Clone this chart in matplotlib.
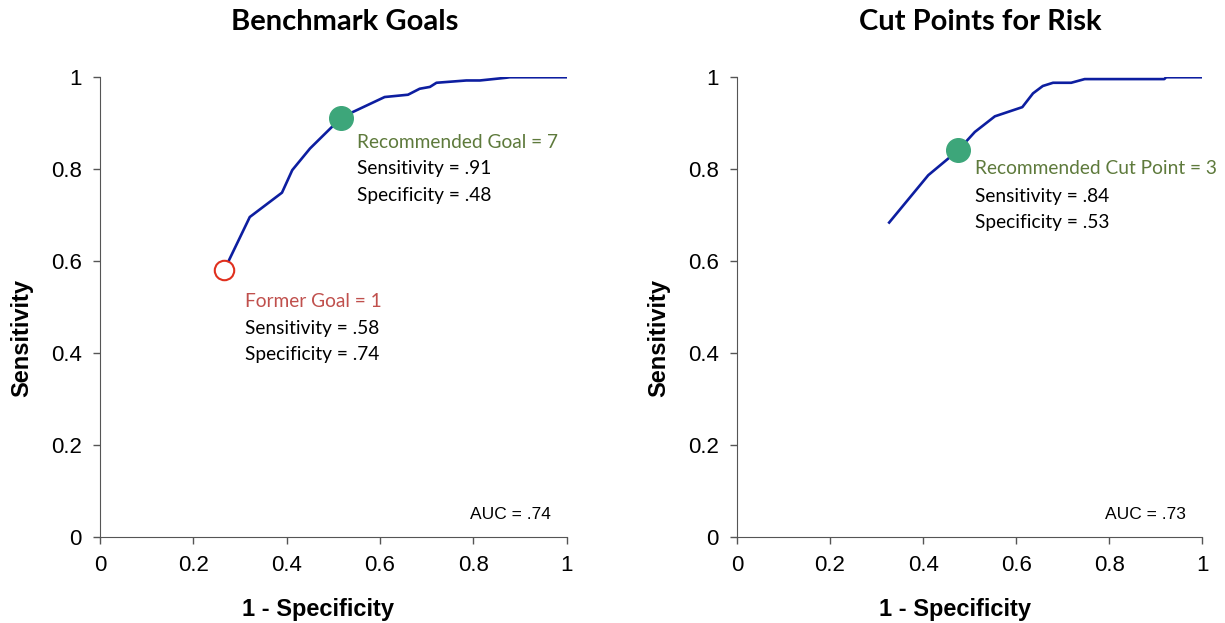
import matplotlib
matplotlib.use("Agg")
import matplotlib.pyplot as plt

plt.rcParams['font.family'] = ['Liberation Sans', 'DejaVu Sans']

# ROC curves: x = 1 - specificity, y = sensitivity
goal_fpr = [0.266, 0.321, 0.390, 0.412, 0.450, 0.517, 0.543, 0.610, 0.660, 0.685,
            0.707, 0.721, 0.785, 0.814, 0.871, 0.878, 1.0]
goal_tpr = [0.580, 0.696, 0.749, 0.798, 0.845, 0.912, 0.925, 0.957, 0.962, 0.975,
            0.979, 0.988, 0.993, 0.993, 0.999, 1.0, 1.0]

risk_fpr = [0.327, 0.411, 0.475, 0.511, 0.554, 0.613, 0.636, 0.657, 0.679, 0.718,
            0.747, 0.918, 0.922, 1.0]
risk_tpr = [0.684, 0.787, 0.841, 0.881, 0.915, 0.935, 0.965, 0.981, 0.988, 0.988,
            0.996, 0.996, 1.0, 1.0]

former_pt = (0.265, 0.58)
goal_pt = (0.517, 0.912)
cut_pt = (0.475, 0.841)

ticks = [0, 0.2, 0.4, 0.6, 0.8, 1]
tick_labels = ['0', '0.2', '0.4', '0.6', '0.8', '1']

line_col = '#0D1EA0'
green = '#3DA67A'
note_font = ['Lato', 'DejaVu Sans']
fs = 13.8

fig = plt.figure(figsize=(12.25, 6.23), dpi=100)
ax1 = fig.add_axes([0.0816, 0.138, 0.381, 0.738])
ax2 = fig.add_axes([0.6016, 0.138, 0.380, 0.738])

for ax in (ax1, ax2):
    ax.set_xlim(0, 1)
    ax.set_ylim(0, 1)
    ax.set_xticks(ticks)
    ax.set_xticklabels(tick_labels)
    ax.set_yticks(ticks)
    ax.set_yticklabels(tick_labels)
    ax.tick_params(direction='out', length=5, width=1, color='#555555',
                   labelsize=16, pad=8)
    for s in ('top', 'right'):
        ax.spines[s].set_visible(False)
    for s in ('left', 'bottom'):
        ax.spines[s].set_color('#555555')
    ax.set_xlabel('1 - Specificity', fontsize=17, fontweight='bold', va='center')
    ax.set_ylabel('Sensitivity', fontsize=17, fontweight='bold', va='center')
    ax.xaxis.set_label_coords(0.468, -0.157)
    ax.yaxis.set_label_coords(-0.167, 0.432)

# left panel
ax1.plot(goal_fpr, goal_tpr, color=line_col, lw=1.9, zorder=2)
ax1.plot(*former_pt, 'o', ms=14, mfc='white', mec='#E0301E', mew=1.5, zorder=3)
ax1.plot(*goal_pt, 'o', ms=17, color=green, zorder=3)
ax1.text(0.550, 0.859, 'Recommended Goal = 7', color='#5E7A3C', fontsize=fs,
         family=note_font, va='center')
ax1.text(0.550, 0.801, 'Sensitivity = .91', fontsize=fs, family=note_font, va='center')
ax1.text(0.550, 0.743, 'Specificity = .48', fontsize=fs, family=note_font, va='center')
ax1.text(0.310, 0.512, 'Former Goal = 1', color='#C0504D', fontsize=fs,
         family=note_font, va='center')
ax1.text(0.310, 0.454, 'Sensitivity = .58', fontsize=fs, family=note_font, va='center')
ax1.text(0.310, 0.396, 'Specificity = .74', fontsize=fs, family=note_font, va='center')
ax1.text(0.879, 0.048, 'AUC = .74', fontsize=12.5, ha='center', va='center')

# right panel
ax2.plot(risk_fpr, risk_tpr, color=line_col, lw=1.9, zorder=2)
ax2.plot(*cut_pt, 'o', ms=17, color=green, zorder=3)
ax2.text(0.511, 0.801, 'Recommended Cut Point = 3', color='#5E7A3C', fontsize=fs,
         family=note_font, va='center', clip_on=False)
ax2.text(0.511, 0.741, 'Sensitivity = .84', fontsize=fs, family=note_font, va='center')
ax2.text(0.511, 0.685, 'Specificity = .53', fontsize=fs, family=note_font, va='center')
ax2.text(0.878, 0.048, 'AUC = .73', fontsize=12.5, ha='center', va='center')

fig.text(345 / 1225, 1 - 22 / 623, 'Benchmark Goals', fontsize=21, fontweight='bold',
         family=note_font, ha='center', va='center')
fig.text(980 / 1225, 1 - 22 / 623, 'Cut Points for Risk', fontsize=21, fontweight='bold',
         family=note_font, ha='center', va='center')

fig.savefig('out.png', dpi=100)
